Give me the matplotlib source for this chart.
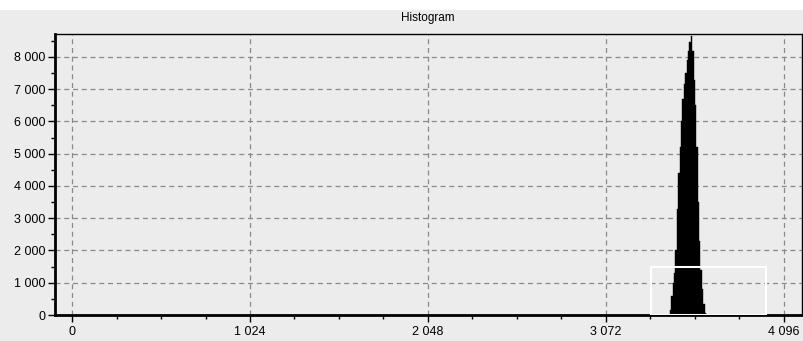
import matplotlib.pyplot as plt
from matplotlib.patches import Rectangle
from matplotlib.ticker import MultipleLocator, FuncFormatter

plt.rcParams['font.family'] = ['Liberation Sans', 'DejaVu Sans']

# histogram bins (8 wide) around the peak
bin_centers = [3444, 3452, 3460, 3468, 3476, 3484, 3492, 3500, 3508, 3516, 3524, 3532, 3540,
               3548, 3556, 3564, 3572, 3580, 3588, 3596, 3604, 3612, 3620, 3628, 3636, 3644]
counts = [150, 600, 1000, 1300, 2000, 3300, 4400, 5200, 6000, 6700, 7150, 7500, 7900,
          8200, 8450, 8650, 8200, 7300, 6500, 5200, 3500, 2300, 1400, 800, 350, 50]

# selection window drawn in white
sel_start = 3331
sel_end = 3993
sel_level = 1480

x_ticks = [0, 1024, 2048, 3072, 4096]
y_ticks = [0, 1000, 2000, 3000, 4000, 5000, 6000, 7000, 8000]

bg = '#ececec'
fig = plt.figure(figsize=(8.04, 3.41), dpi=100, facecolor=bg)
# white strip at the top
fig.patches.append(Rectangle((0, 1 - 10 / 341), 1, 10 / 341, transform=fig.transFigure,
                             facecolor='white', edgecolor='none', zorder=0))

ax = fig.add_axes([55 / 804, 1 - 315 / 341, (802 - 55) / 804, (315 - 34) / 341])
ax.set_facecolor(bg)

ax.bar(bin_centers, counts, width=8, color='black', edgecolor='black', linewidth=0.3, zorder=3)
ax.add_patch(Rectangle((sel_start, 0), sel_end - sel_start, sel_level, fill=False,
                       edgecolor='white', linewidth=1.5, zorder=4))

ax.set_xlim(-98, 4200)
ax.set_ylim(0, 8713)
ax.set_xticks(x_ticks)
ax.set_yticks(y_ticks)
ax.xaxis.set_minor_locator(MultipleLocator(256))
ax.yaxis.set_minor_locator(MultipleLocator(500))

fmt = FuncFormatter(lambda v, p: f'{int(v):,}'.replace(',', ' '))
ax.xaxis.set_major_formatter(fmt)
ax.yaxis.set_major_formatter(fmt)

ax.grid(True, which='major', color='#8a8a8a', linestyle=(0, (4, 3)), linewidth=0.9, zorder=1)
ax.set_axisbelow(True)
ax.tick_params(which='major', direction='out', length=5, width=1, labelsize=9, colors='black')
ax.tick_params(which='minor', direction='out', length=3, width=1)
ax.tick_params(axis='y', pad=2)
ax.tick_params(axis='x', pad=3)

for side in ['top', 'right']:
    ax.spines[side].set_linewidth(1)
ax.spines['left'].set_linewidth(2)
ax.spines['bottom'].set_linewidth(2)

fig.text(428 / 804, 1 - 18 / 341, 'Histogram', ha='center', va='center', fontsize=8.5)

fig.savefig('out.png', dpi=100, facecolor=bg)
